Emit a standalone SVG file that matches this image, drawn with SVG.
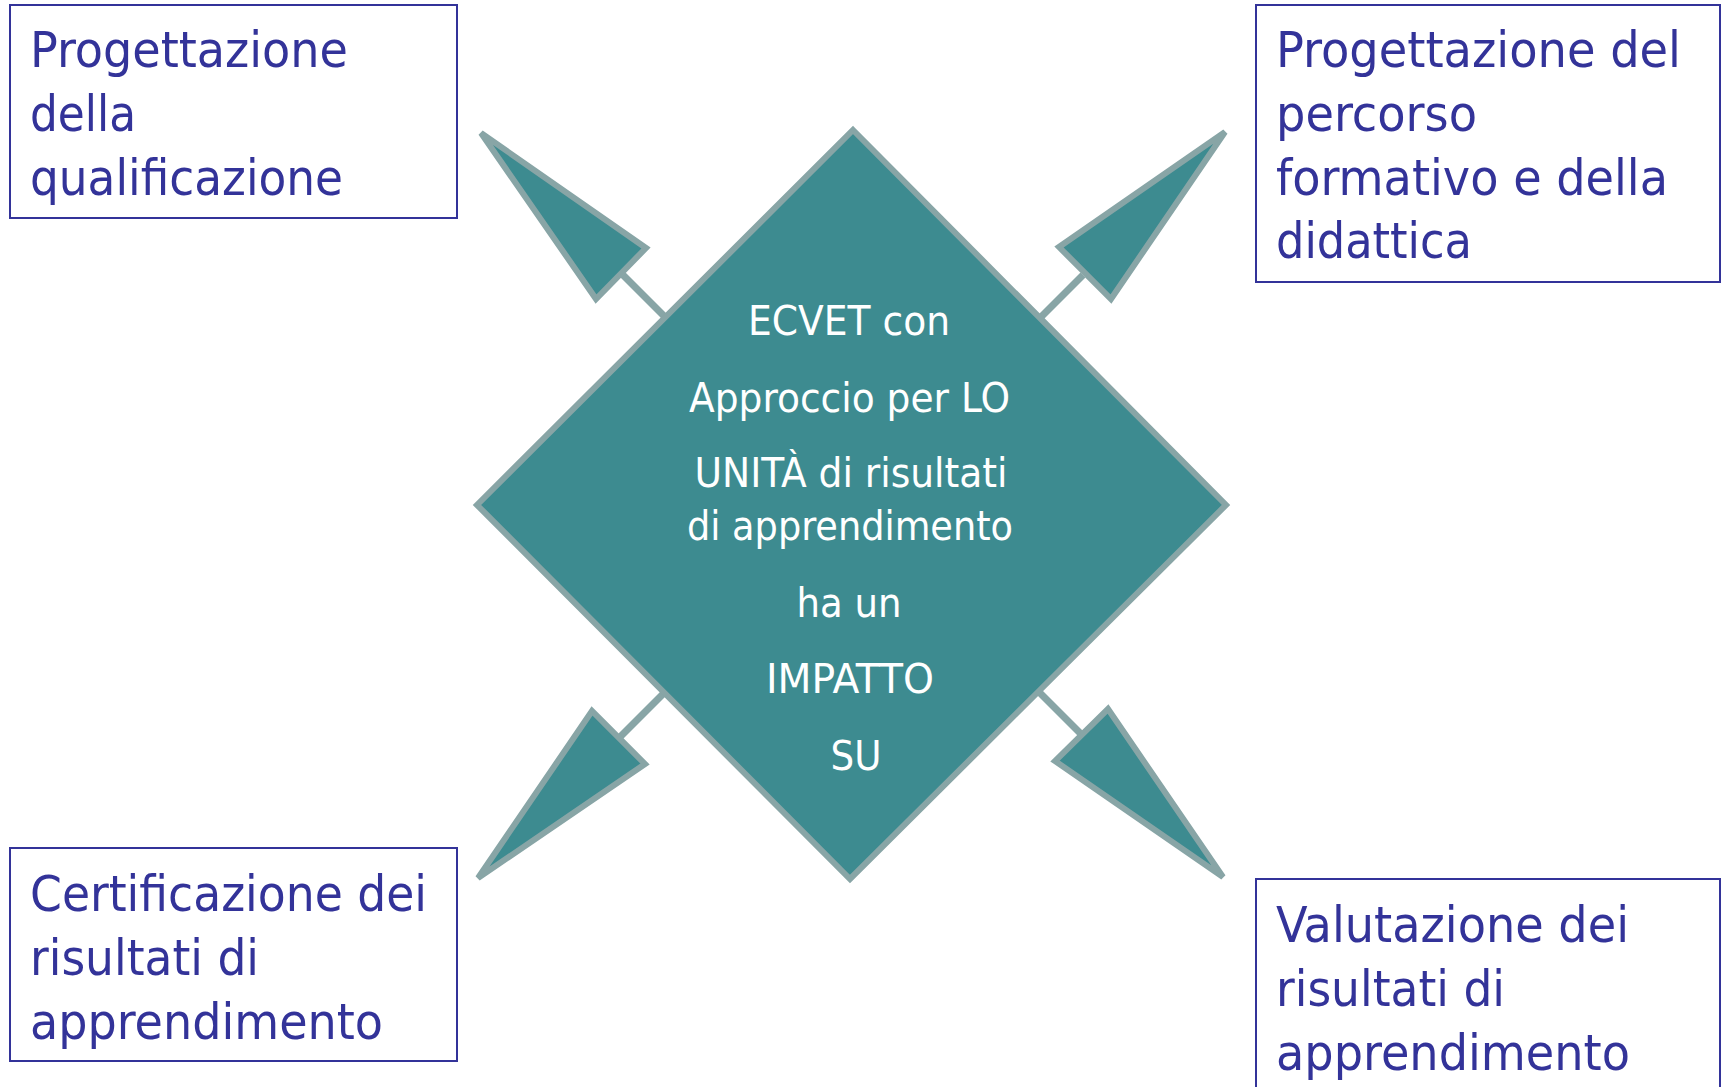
<svg xmlns="http://www.w3.org/2000/svg" width="1723" height="1087" viewBox="0 0 1723 1087">
<style>
.box{fill:#ffffff;stroke:#333399;stroke-width:2}
.bt{font-family:'DejaVu Sans Condensed','DejaVu Sans',sans-serif;font-stretch:condensed;font-size:50px;fill:#333399}
.ct{font-family:'DejaVu Sans Condensed','DejaVu Sans',sans-serif;font-stretch:condensed;font-size:41px;fill:#ffffff;text-anchor:middle}
.shape{fill:#3d8b90;stroke:#88a5a6;stroke-width:6;stroke-linejoin:miter}
.shaft{stroke:#88a5a6;stroke-width:7;fill:none}
</style>
<rect width="1723" height="1087" fill="#ffffff"/>
<g id="connectors">
<line class="shaft" x1="623" y1="275" x2="668" y2="320"/>
<line class="shaft" x1="1083" y1="275" x2="1039" y2="319"/>
<line class="shaft" x1="620" y1="737" x2="666" y2="691"/>
<line class="shaft" x1="1082" y1="735" x2="1037" y2="690"/>
</g>
<g id="arrow-tl"><polygon class="shape" points="481,133 646,248 596,299"/></g>
<g id="arrow-tr"><polygon class="shape" points="1225,132 1059,247 1111,299"/></g>
<g id="arrow-bl"><polygon class="shape" points="478,878 592,711 645,764"/></g>
<g id="arrow-br"><polygon class="shape" points="1223,877 1055,761 1108,709"/></g>
<g id="center">
<polygon class="shape" points="853,130 1226,505 850,879 477,505"/>
<text class="ct" x="849" y="335" textLength="202" lengthAdjust="spacingAndGlyphs">ECVET con</text>
<text class="ct" x="849.5" y="412" textLength="321" lengthAdjust="spacingAndGlyphs">Approccio per LO</text>
<text class="ct" x="851" y="487" textLength="313" lengthAdjust="spacingAndGlyphs">UNITÀ di risultati</text>
<text class="ct" x="850" y="540" textLength="326" lengthAdjust="spacingAndGlyphs">di apprendimento</text>
<text class="ct" x="849" y="617" textLength="105" lengthAdjust="spacingAndGlyphs">ha un</text>
<text class="ct" x="850" y="693" textLength="168" lengthAdjust="spacingAndGlyphs">IMPATTO</text>
<text class="ct" x="856" y="770" textLength="51" lengthAdjust="spacingAndGlyphs">SU</text>
</g>
<g id="box-tl">
<rect class="box" x="10" y="5" width="447" height="213"/>
<text class="bt" x="30" y="67" textLength="318" lengthAdjust="spacingAndGlyphs">Progettazione</text>
<text class="bt" x="30" y="131" textLength="106" lengthAdjust="spacingAndGlyphs">della</text>
<text class="bt" x="30" y="195" textLength="313" lengthAdjust="spacingAndGlyphs">qualificazione</text>
</g>
<g id="box-tr">
<rect class="box" x="1256" y="5" width="464" height="277"/>
<text class="bt" x="1276" y="67" textLength="405" lengthAdjust="spacingAndGlyphs">Progettazione del</text>
<text class="bt" x="1276" y="131" textLength="201" lengthAdjust="spacingAndGlyphs">percorso</text>
<text class="bt" x="1276" y="195" textLength="392" lengthAdjust="spacingAndGlyphs">formativo e della</text>
<text class="bt" x="1276" y="258" textLength="196" lengthAdjust="spacingAndGlyphs">didattica</text>
</g>
<g id="box-bl">
<rect class="box" x="10" y="848" width="447" height="213"/>
<text class="bt" x="30" y="911" textLength="397" lengthAdjust="spacingAndGlyphs">Certificazione dei</text>
<text class="bt" x="30" y="975" textLength="229" lengthAdjust="spacingAndGlyphs">risultati di</text>
<text class="bt" x="30" y="1039" textLength="353" lengthAdjust="spacingAndGlyphs">apprendimento</text>
</g>
<g id="box-br">
<rect class="box" x="1256" y="879" width="464" height="230"/>
<text class="bt" x="1276" y="942" textLength="353" lengthAdjust="spacingAndGlyphs">Valutazione dei</text>
<text class="bt" x="1276" y="1006" textLength="229" lengthAdjust="spacingAndGlyphs">risultati di</text>
<text class="bt" x="1276" y="1070" textLength="354" lengthAdjust="spacingAndGlyphs">apprendimento</text>
</g>
</svg>
